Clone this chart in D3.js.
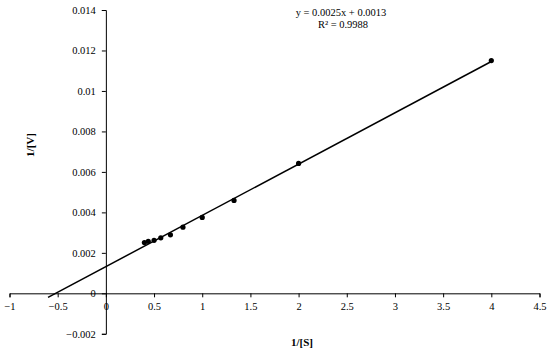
<!DOCTYPE html>
<html>
<head>
<meta charset="utf-8">
<script src="https://cdn.jsdelivr.net/npm/d3@7"></script>
<style>
  body { margin: 0; background: #fff; }
  svg text { font-family: "Liberation Serif", "Times New Roman", serif; fill: #000; }
</style>
</head>
<body>
<script>
// Lineweaver-Burk data
var invS = [0.4, 0.44, 0.5, 0.57, 0.67, 0.8, 1, 1.33, 2, 4];
var invV = [0.00251, 0.00257, 0.00262, 0.00274, 0.00289, 0.00327, 0.00375, 0.00459, 0.00642, 0.0115];
var xTicks = [-1, -0.5, 0, 0.5, 1, 1.5, 2, 2.5, 3, 3.5, 4, 4.5];
var yTicks = [-0.002, 0, 0.002, 0.004, 0.006, 0.008, 0.01, 0.012, 0.014];
var eqLabel = "y = 0.0025x + 0.0013";
var r2Label = "R\u00b2 = 0.9988";
var trendStart = -0.6;

var w = 550, h = 352;
var serif = "'Liberation Serif', 'Times New Roman', serif";

var x = d3.scaleLinear().domain([-1, 4.5]).range([9.5, 539.5]),
    y = d3.scaleLinear().domain([-0.002, 0.014]).range([333.8, 10]);

var svg = d3.select("body").append("svg")
    .attr("width", w)
    .attr("height", h);

// least squares fit for the trendline
var mx = d3.mean(invS),
    my = d3.mean(invV),
    sxy = d3.sum(invS, function(d, i) { return (d - mx) * (invV[i] - my); }),
    sxx = d3.sum(invS, function(d) { return (d - mx) * (d - mx); }),
    slope = sxy / sxx,
    icpt = my - slope * mx;

var fmt = function(d) { return d3.format("~g")(+d.toFixed(4)); };

function styleAxis(g) {
    g.attr("font-family", serif).attr("font-size", 10.5);
    g.select(".domain").attr("stroke", "#000");
    g.selectAll(".tick line").attr("stroke", "#000");
    g.selectAll("text").attr("fill", "#000");
}

// x axis through y = 0
svg.append("g")
    .attr("transform", "translate(0," + y(0) + ")")
    .call(d3.axisBottom(x).tickValues(xTicks).tickSize(4).tickPadding(5).tickFormat(fmt))
    .call(styleAxis);

// y axis through x = 0
svg.append("g")
    .attr("transform", "translate(" + x(0) + ",0)")
    .call(d3.axisLeft(y).tickValues(yTicks).tickSize(4).tickPadding(6).tickFormat(fmt))
    .call(styleAxis);

// trendline
svg.append("line")
    .attr("x1", x(trendStart))
    .attr("y1", y(slope * trendStart + icpt))
    .attr("x2", x(d3.max(invS)))
    .attr("y2", y(slope * d3.max(invS) + icpt))
    .attr("stroke", "#000")
    .attr("stroke-width", 1.5);

// points
svg.selectAll("circle.pt")
    .data(invS)
    .enter()
    .append("circle")
    .attr("class", "pt")
    .attr("cx", function(d) { return x(d); })
    .attr("cy", function(d, i) { return y(invV[i]); })
    .attr("r", 2.6)
    .attr("fill", "#000");

// equation labels
svg.append("text")
    .attr("x", 341).attr("y", 15.5)
    .attr("text-anchor", "middle")
    .style("font-size", "10.5px")
    .text(eqLabel);

svg.append("text")
    .attr("x", 343).attr("y", 28)
    .attr("text-anchor", "middle")
    .style("font-size", "10.5px")
    .text(r2Label);

// axis titles
svg.append("text")
    .attr("x", 302).attr("y", 346)
    .attr("text-anchor", "middle")
    .style("font-size", "11px")
    .style("font-weight", "bold")
    .text("1/[S]");

svg.append("text")
    .attr("transform", "translate(34,145) rotate(-90)")
    .attr("text-anchor", "middle")
    .style("font-size", "11px")
    .style("font-weight", "bold")
    .text("1/[V]");
</script>
</body>
</html>
